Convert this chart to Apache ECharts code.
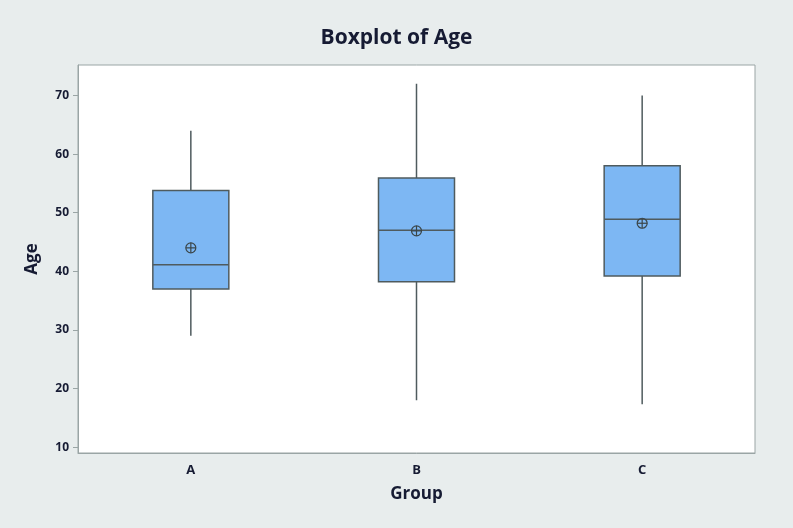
<!DOCTYPE html>
<html>
<head>
<meta charset="utf-8">
<script src="https://cdn.jsdelivr.net/npm/echarts@6/dist/echarts.min.js"></script>
<style>
  html, body { margin: 0; padding: 0; background: #e8eded; }
  #main { width: 793px; height: 528px; }
</style>
</head>
<body>
<div id="main"></div>
<script>
// group names and five-number summaries
const categories = ['A', 'B', 'C']
const whiskerLow = [29, 18, 17.3]
const q1 = [37, 38.2, 39.2]
const medians = [41.1, 47, 48.9]
const q3 = [53.8, 55.9, 58]
const whiskerHigh = [64, 72, 70]
const means = [44, 46.9, 48.2]
const yTicks = [10, 20, 30, 40, 50, 60, 70]

const boxData = categories.map((c, i) => [i, whiskerLow[i], q1[i], medians[i], q3[i], whiskerHigh[i]])
const meanData = categories.map((c, i) => [i, means[i]])

const lineColor = '#4f5b5e'
const textColor = '#161b33'
const boxWidth = 76

const chart = echarts.init(document.getElementById('main'))

const option = {
  backgroundColor: '#e8eded',
  animation: false,
  title: {
    text: 'Boxplot of Age',
    left: 'center',
    top: 23,
    textStyle: { fontFamily: 'Open Sans', fontSize: 21, fontWeight: 'bold', color: textColor }
  },
  grid: {
    left: 78, right: 38, top: 65, bottom: 75,
    show: true, backgroundColor: '#ffffff', borderColor: '#9aa5a5', borderWidth: 1
  },
  xAxis: {
    type: 'category',
    data: categories,
    name: 'Group',
    nameLocation: 'middle',
    nameGap: 33,
    nameTextStyle: { fontFamily: 'Open Sans', fontSize: 17, fontWeight: 'bold', color: textColor },
    axisLine: { lineStyle: { color: '#9aa5a5' } },
    axisTick: { alignWithLabel: true, length: 4, lineStyle: { color: '#9aa5a5' } },
    axisLabel: { fontFamily: 'Open Sans', fontSize: 13, fontWeight: 'bold', color: textColor, margin: 11 },
    splitLine: { show: false }
  },
  yAxis: {
    type: 'value',
    min: 9,
    max: 75.2,
    name: 'Age',
    nameLocation: 'middle',
    nameGap: 37,
    nameTextStyle: { fontFamily: 'Open Sans', fontSize: 17, fontWeight: 'bold', color: textColor },
    axisLine: { show: true, lineStyle: { color: '#9aa5a5' } },
    axisTick: { show: true, length: 5, customValues: yTicks, lineStyle: { color: '#9aa5a5' } },
    axisLabel: { fontFamily: 'Open Sans', fontSize: 12, fontWeight: 'bold', color: textColor, margin: 9, customValues: yTicks },
    splitLine: { show: false }
  },
  series: [
    {
      // boxes and whiskers without end caps
      type: 'custom',
      data: boxData,
      renderItem: (params, api) => {
        const x = api.value(0)
        const lo = api.coord([x, api.value(1)])
        const b1 = api.coord([x, api.value(2)])
        const md = api.coord([x, api.value(3)])
        const b3 = api.coord([x, api.value(4)])
        const hi = api.coord([x, api.value(5)])
        const cx = lo[0]
        const half = boxWidth / 2
        const stroke = { stroke: lineColor, lineWidth: 1.5 }
        return {
          type: 'group',
          children: [
            { type: 'line', shape: { x1: cx, y1: lo[1], x2: cx, y2: b1[1] }, style: stroke },
            { type: 'line', shape: { x1: cx, y1: b3[1], x2: cx, y2: hi[1] }, style: stroke },
            {
              type: 'rect',
              shape: { x: cx - half, y: b3[1], width: boxWidth, height: b1[1] - b3[1] },
              style: { fill: '#7db7f3', stroke: lineColor, lineWidth: 1.5 }
            },
            { type: 'line', shape: { x1: cx - half, y1: md[1], x2: cx + half, y2: md[1] }, style: stroke }
          ]
        }
      }
    },
    {
      // mean symbol: circle with a cross
      type: 'custom',
      data: meanData,
      z: 5,
      renderItem: (params, api) => {
        const p = api.coord([api.value(0), api.value(1)])
        const r = 5
        const stroke = { stroke: '#3a4548', lineWidth: 1.2, fill: 'none' }
        return {
          type: 'group',
          children: [
            { type: 'circle', shape: { cx: p[0], cy: p[1], r: r }, style: stroke },
            { type: 'line', shape: { x1: p[0] - r, y1: p[1], x2: p[0] + r, y2: p[1] }, style: stroke },
            { type: 'line', shape: { x1: p[0], y1: p[1] - r, x2: p[0], y2: p[1] + r }, style: stroke }
          ]
        }
      }
    }
  ]
}

chart.setOption(option)
</script>
</body>
</html>
